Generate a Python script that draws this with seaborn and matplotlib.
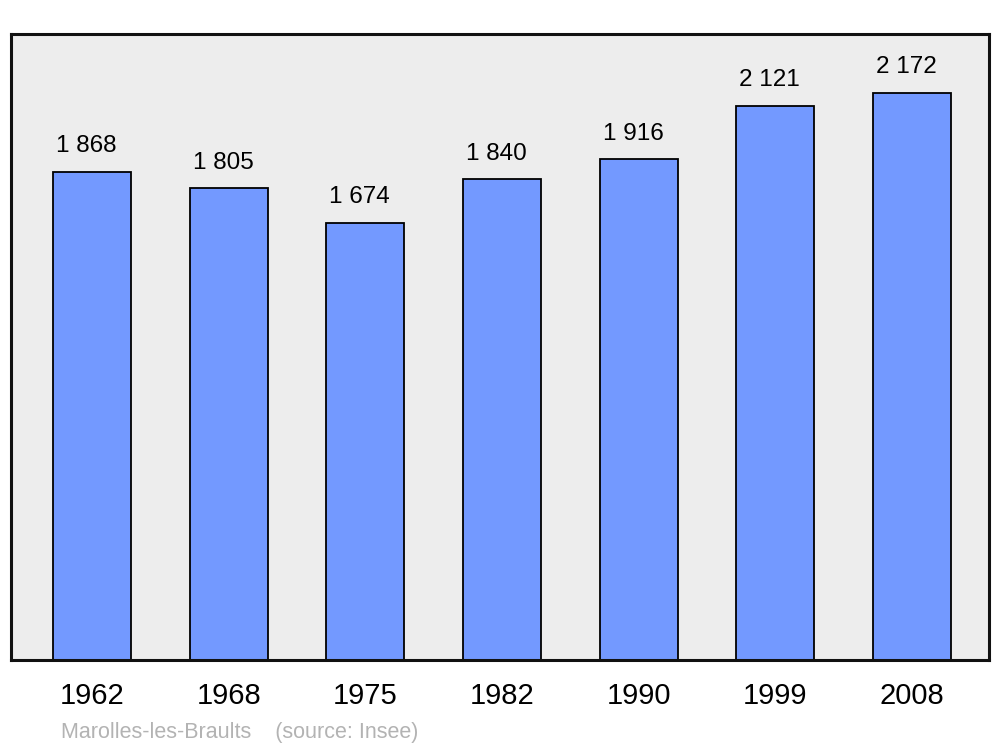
import pandas as pd
import matplotlib
matplotlib.use('Agg')
import matplotlib.pyplot as plt
import seaborn as sns

# Data
years = ['1962', '1968', '1975', '1982', '1990', '1999', '2008']
population = [1868, 1805, 1674, 1840, 1916, 2121, 2172]

df = pd.DataFrame({'Year': years, 'Population': population})

sns.set_style('white')
plt.rcParams['font.family'] = ['Liberation Sans', 'DejaVu Sans']
plt.rcParams['text.color'] = 'black'
plt.rcParams['xtick.color'] = 'black'

fig = plt.figure(figsize=(10, 7.47), dpi=100)
ax = fig.add_axes([0.011, 0.1165, 0.978, 0.838])
ax.set_facecolor('#ededed')

sns.barplot(data=df, x='Year', y='Population', color='#7399ff', saturation=1,
            width=0.57, edgecolor='black', linewidth=1.3, ax=ax)

# value labels above bars
for i, v in enumerate(population):
    label = f'{v:,}'.replace(',', ' ')
    ax.annotate(label, (i, v), xytext=(-4, 14), textcoords='offset points',
                ha='center', va='baseline', fontsize=17.5, color='black')

ax.set_xlim(-0.593, 6.563)
ax.set_ylim(0, 2396)
ax.set_yticks([])
ax.set_xlabel('')
ax.set_ylabel('')
ax.tick_params(axis='x', length=0, pad=16, labelsize=21, labelcolor='black')

for s in ax.spines.values():
    s.set_visible(True)
    s.set_linewidth(2.2)
    s.set_color('#111111')

fig.text(0.061, 0.012, 'Marolles-les-Braults    (source: Insee)',
         color='#b3b3b3', fontsize=15.5, ha='left', va='baseline')

fig.savefig('out.png', dpi=100, facecolor='white')
